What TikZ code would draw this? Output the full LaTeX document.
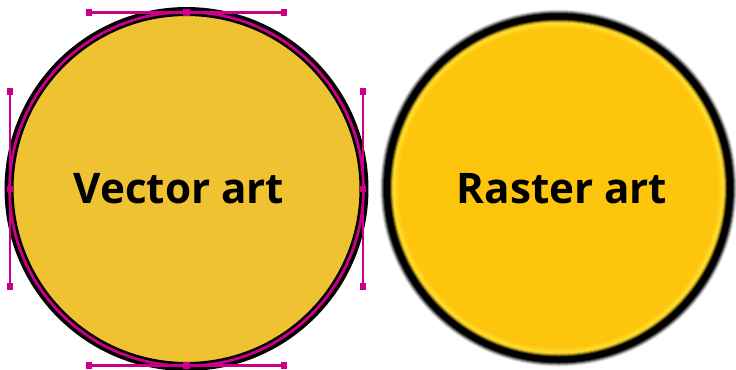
\documentclass[tikz,border=0pt]{standalone}
\usepackage{fontspec}
\setmainfont{Open Sans}
\usetikzlibrary{calc}

\definecolor{vecyellow}{RGB}{239,194,50}
\definecolor{rasyellow}{RGB}{253,197,12}
\definecolor{rasbright}{RGB}{255,216,40}
\definecolor{handlemag}{RGB}{204,0,136}

\begin{document}
\begin{tikzpicture}[x=0.02cm, y=-0.02cm,
  handle/.style={handlemag, line width=0.045cm},
  knot/.style={rectangle, fill=handlemag, inner sep=0pt, minimum size=0.13cm},
  label/.style={font=\fontsize{24}{28}\selectfont\bfseries, inner sep=0pt, anchor=base},
]

\useasboundingbox (0,0) rectangle (736,369);

% === Vector circle ===
\coordinate (vc) at (186.5,189);
\fill[vecyellow] (vc) circle[radius=3.5cm];
\draw[black, line width=0.18cm] (vc) circle[radius=3.55cm];
\draw[handlemag, line width=0.055cm] (vc) circle[radius=3.54cm];

% anchor points and their handles
\coordinate (top) at (186.5,12.5);
\coordinate (bot) at (186.5,365.5);
\coordinate (lft) at (10,189);
\coordinate (rgt) at (363,189);
\draw[handle] ($(top)+(-97.5,0)$) coordinate (t1) -- ($(top)+(97.5,0)$) coordinate (t2);
\draw[handle] ($(bot)+(-97.5,0)$) coordinate (b1) -- ($(bot)+(97.5,0)$) coordinate (b2);
\draw[handle] ($(lft)+(0,-97.5)$) coordinate (l1) -- ($(lft)+(0,97.5)$) coordinate (l2);
\draw[handle] ($(rgt)+(0,-97.5)$) coordinate (r1) -- ($(rgt)+(0,97.5)$) coordinate (r2);
\foreach \p in {top,bot,lft,rgt,t1,t2,b1,b2,l1,l2,r1,r2}
  \node[knot] at (\p) {};

\node[label] (vtxt) at (179,203) {Vector art};

% === Raster circle (soft, blurred edge) ===
\coordinate (rc) at (558.5,188);
\foreach \r/\c in {178.5/black!10, 177.5/black!30, 176.5/black!55, 175.5/black!80,
                   174.5/black, 168.5/black!70!rasyellow, 167.5/black!40!rasbright,
                   166.5/black!15!rasbright, 165.5/rasbright,
                   162.5/rasbright!50!rasyellow, 160.5/rasyellow}
  \fill[\c] (rc) circle[radius=\r*0.02cm];

\node[label] (rtxt) at (562,203) {Raster art};

\end{tikzpicture}
\end{document}
